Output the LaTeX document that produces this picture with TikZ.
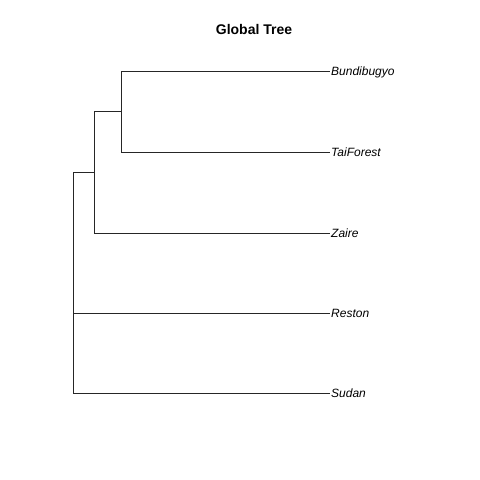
\documentclass[tikz,border=0pt]{standalone}
\usepackage{fontspec}
\setmainfont{Liberation Sans}
\usepackage{tikz}

\tikzset{
  branch/.style={line width=0.8pt, black!85},
  taxon/.style={anchor=west, inner xsep=1pt, inner ysep=0pt, text height=8.6pt, text depth=0pt,
    font=\fontsize{12}{14}\selectfont\itshape},
  heading/.style={inner sep=0pt, text height=10pt, text depth=0pt,
    font=\fontsize{14}{16}\selectfont\bfseries}
}

\begin{document}
\begin{tikzpicture}[x=1pt,y=-1pt]
	\useasboundingbox (0,0) rectangle (480,480);
	
	\node[heading] (title) at (254,29) {Global Tree};
	
	% tips
	\node[taxon] (bund) at (330,71) {Bundibugyo};
	\node[taxon] (tai) at (330,152) {TaiForest};
	\node[taxon] (zaire) at (330,233) {Zaire};
	\node[taxon] (reston) at (330,313) {Reston};
	\node[taxon] (sudan) at (330,393) {Sudan};
	
	% inner nodes
	\coordinate (n3) at (121,111.5);
	\coordinate (n2) at (94,172.25);
	\coordinate (n1) at (73.7,242.6);
	\coordinate (root) at (73,317.8);
	
	% branches
	\draw[branch] (n3) |- (bund.west);
	\draw[branch] (n3) |- (tai.west);
	\draw[branch] (n2) |- (n3);
	\draw[branch] (n2) |- (zaire.west);
	\draw[branch] (n1) |- (n2);
	\draw[branch] (n1) |- (reston.west);
	\draw[branch] (root) |- (n1);
	\draw[branch] (root) |- (sudan.west);
\end{tikzpicture}
\end{document}
